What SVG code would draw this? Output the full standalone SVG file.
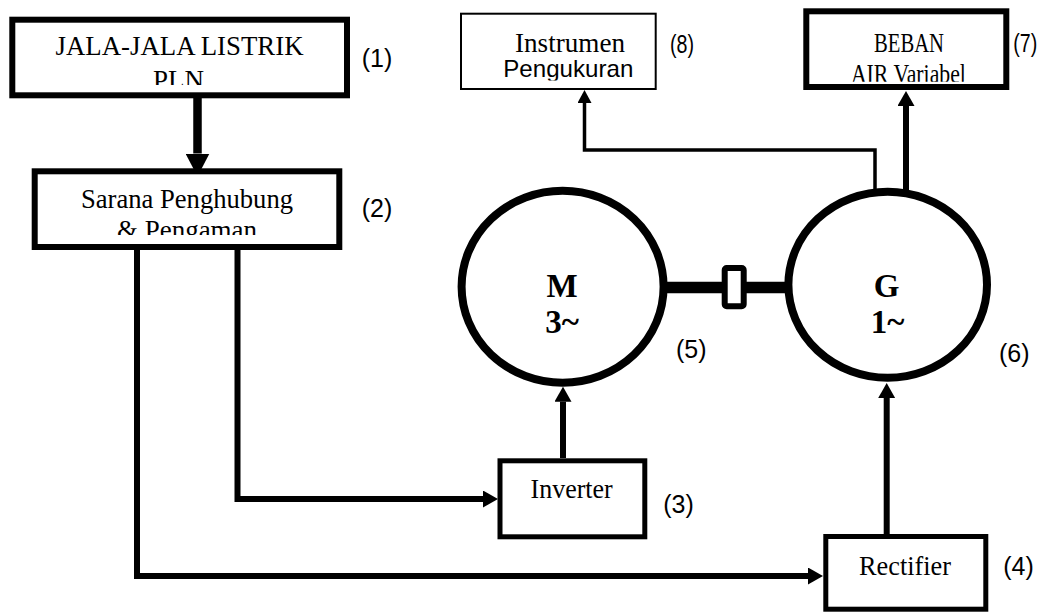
<svg xmlns="http://www.w3.org/2000/svg" width="1057" height="613" viewBox="0 0 1057 613">
<style>
.box{fill:#fff;stroke:#000}
.ser{font-family:"Liberation Serif","Times New Roman",serif;font-size:27px;fill:#000;text-anchor:middle}
.san{font-family:"Liberation Sans",Arial,sans-serif;font-size:24px;fill:#000;text-anchor:middle}
.lbl{font-family:"Liberation Sans",Arial,sans-serif;font-size:25px;fill:#000}
.mg{font-family:"Liberation Serif","Times New Roman",serif;font-size:33px;font-weight:bold;fill:#000;text-anchor:middle}
.wire{fill:none;stroke:#000;stroke-linejoin:miter}
.mach{fill:#fff;stroke:#000;stroke-width:8}
</style>
<defs>
<marker id="ah" markerUnits="userSpaceOnUse" viewBox="0 0 15 17" markerWidth="15" markerHeight="17" refX="0" refY="8.5" orient="auto"><path d="M0,0 L15,8.5 L0,17 Z" fill="#000"/></marker>
<marker id="ahs" markerUnits="userSpaceOnUse" viewBox="0 0 13 14" markerWidth="13" markerHeight="14" refX="0" refY="7" orient="auto"><path d="M0,0 L13,7 L0,14 Z" fill="#000"/></marker>
<marker id="ahb" markerUnits="userSpaceOnUse" viewBox="0 0 23 24" markerWidth="23" markerHeight="24" refX="0" refY="12" orient="auto"><path d="M0,0 L23,12 L0,24 Z" fill="#000"/></marker>
<clipPath id="c1"><rect x="0" y="0" width="1057" height="85"/></clipPath>
<clipPath id="c2"><rect x="0" y="0" width="1057" height="235"/></clipPath>
<clipPath id="c8"><rect x="0" y="0" width="1057" height="80.5"/></clipPath>
<clipPath id="c7"><rect x="0" y="0" width="1057" height="81.7"/></clipPath>
</defs>
<rect width="1057" height="613" fill="#fff"/>

<g id="connectors">
<path class="wire" d="M197.5,98 V153.5" stroke-width="8.5" marker-end="url(#ahb)"/>
<path class="wire" d="M237.5,250 V499 H483" stroke-width="6" marker-end="url(#ah)"/>
<path class="wire" d="M137,250 V576 H808" stroke-width="6" marker-end="url(#ah)"/>
<path class="wire" d="M563,458 V401.7" stroke-width="6" marker-end="url(#ah)"/>
<path class="wire" d="M886.7,534 V398" stroke-width="6" marker-end="url(#ah)"/>
<path class="wire" d="M875,192 V150 H584.5 V103" stroke-width="3.5" marker-end="url(#ahs)"/>
<path class="wire" d="M906,193 V106" stroke-width="6" marker-end="url(#ah)"/>
<path class="wire" d="M665,287.5 H786" stroke-width="11.5"/>
</g>

<g id="coupling">
<rect x="724.7" y="268" width="19" height="38.3" rx="2" fill="#fff" stroke="#000" stroke-width="6"/>
</g>

<g id="n1">
<rect class="box" x="12.3" y="19.7" width="334.7" height="75.6" stroke-width="6"/>
<text class="ser" x="179.5" y="55" textLength="248" lengthAdjust="spacingAndGlyphs">JALA-JALA LISTRIK</text>
<text class="ser" x="178.4" y="89" clip-path="url(#c1)">PLN</text>
<text class="lbl" x="361.7" y="66.5">(1)</text>
</g>

<g id="n2">
<rect class="box" x="34.7" y="171.3" width="304.6" height="75.7" stroke-width="6"/>
<text class="ser" x="187" y="207.5" textLength="212" lengthAdjust="spacingAndGlyphs">Sarana Penghubung</text>
<text class="ser" x="187" y="238.5" clip-path="url(#c2)">&amp; Pengaman</text>
<text class="lbl" x="361.7" y="216.5">(2)</text>
</g>

<g id="n3">
<rect class="box" x="500" y="460.8" width="144.8" height="76" stroke-width="5"/>
<text class="ser" x="571.6" y="498.3" textLength="82" lengthAdjust="spacingAndGlyphs">Inverter</text>
<text class="lbl" x="663.3" y="512.5">(3)</text>
</g>

<g id="n4">
<rect class="box" x="825.8" y="536.5" width="160" height="72.7" stroke-width="5"/>
<text class="ser" x="905" y="575" textLength="92" lengthAdjust="spacingAndGlyphs">Rectifier</text>
<text class="lbl" x="1003.3" y="575">(4)</text>
</g>

<g id="n5">
<ellipse class="mach" cx="562.6" cy="286.7" rx="101" ry="96"/>
<text class="mg" x="562" y="296.7">M</text>
<text class="mg" x="562" y="333.3">3~</text>
<text class="lbl" x="676" y="358">(5)</text>
</g>

<g id="n6">
<ellipse class="mach" cx="887.7" cy="284.7" rx="99.3" ry="93"/>
<text class="mg" x="886.7" y="296.7">G</text>
<text class="mg" x="887.5" y="333.3">1~</text>
<text class="lbl" x="999" y="361.5">(6)</text>
</g>

<g id="n7">
<rect class="box" x="806.3" y="11.3" width="200" height="75.7" stroke-width="6"/>
<text class="ser" x="909" y="51.7" textLength="70" lengthAdjust="spacingAndGlyphs">BEBAN</text>
<text class="ser" x="908.4" y="83.3" textLength="115" lengthAdjust="spacingAndGlyphs" clip-path="url(#c7)">AIR Variabel</text>
<text class="lbl" x="1013.3" y="51.5" textLength="24" lengthAdjust="spacingAndGlyphs">(7)</text>
</g>

<g id="n8">
<rect class="box" x="461" y="13.7" width="194.7" height="75.3" stroke-width="2"/>
<text class="ser" x="570" y="51.7" textLength="110" lengthAdjust="spacingAndGlyphs">Instrumen</text>
<text class="san" x="568.3" y="77.3" textLength="130" lengthAdjust="spacingAndGlyphs" clip-path="url(#c8)">Pengukuran</text>
<text class="lbl" x="670" y="53" textLength="24" lengthAdjust="spacingAndGlyphs">(8)</text>
</g>
</svg>
